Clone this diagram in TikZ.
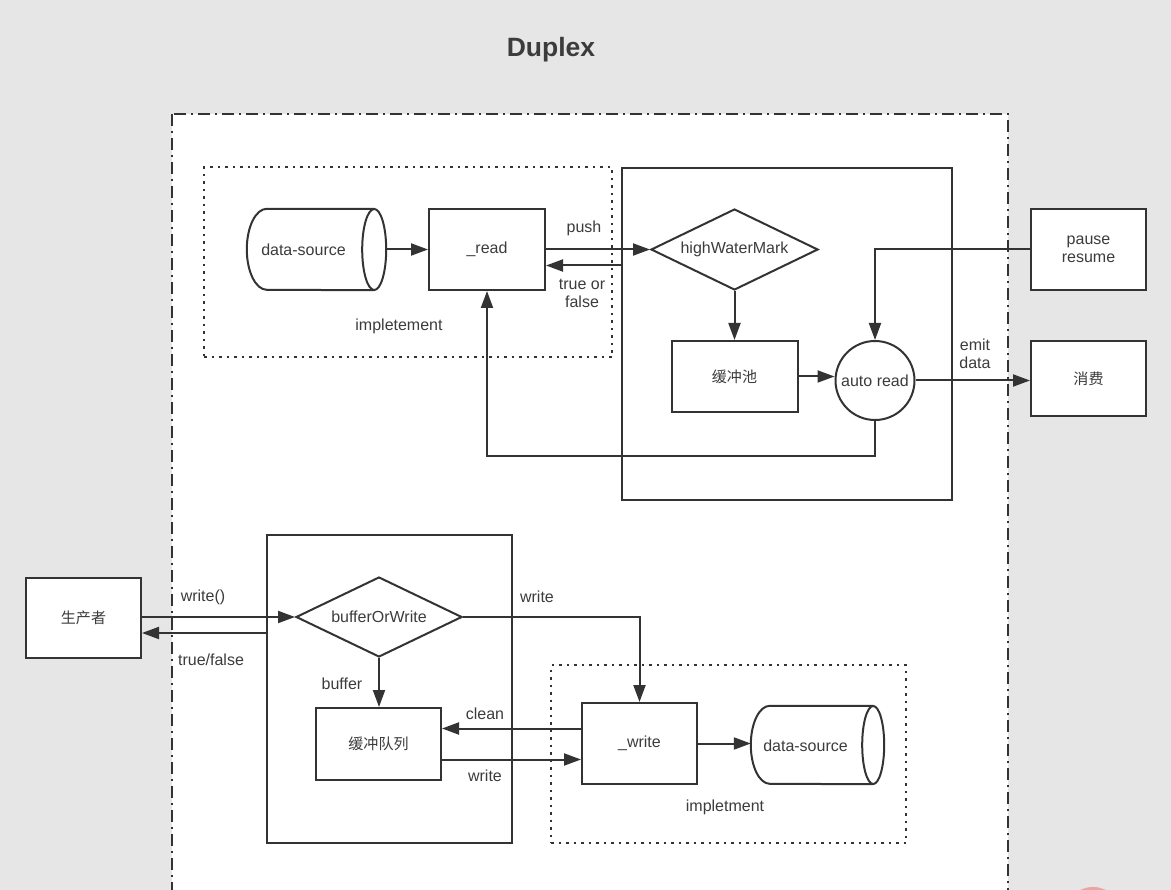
\documentclass[tikz,border=0pt]{standalone}
\usepackage{fontspec}
\setmainfont{Liberation Sans}
\newfontfamily\cjk[Scale=0.94]{Noto Sans CJK SC}
\usetikzlibrary{arrows.meta,shapes.geometric}
\definecolor{bg}{HTML}{E6E6E6}
\definecolor{ink}{HTML}{333333}
\definecolor{txt}{HTML}{3C3C3C}
\definecolor{pinkdot}{HTML}{EBA3A3}
\begin{document}
\begin{tikzpicture}[x=1pt,y=-1pt,
  every node/.style={font=\fontsize{16}{19}\selectfont, text=txt},
  box/.style={draw=ink, line width=2pt, fill=white, inner sep=0pt, align=center},
  dia/.style={diamond, aspect=2, draw=ink, line width=2pt, fill=white, inner sep=0pt},
  circ/.style={circle, draw=ink, line width=2pt, fill=white, inner sep=0pt},
  dsn/.style={draw=none, inner sep=0pt},
  cylline/.style={draw=ink, line width=2pt, fill=white},
  container/.style={draw=ink, line width=2pt, inner sep=0pt},
  dotbox/.style={draw=ink, line width=2pt, dash pattern=on 2.5pt off 5pt, inner sep=0pt},
  outerbox/.style={draw=ink, line width=1.8pt, fill=white, dash pattern=on 12pt off 5pt on 2pt off 5pt},
  conn/.style={draw=ink, line width=2pt},
  arr/.style={conn, -{Triangle[length=17pt,width=12pt]}},
  lbl/.style={inner sep=0pt, align=center}
]
\useasboundingbox (0,0) rectangle (1171,890);
\fill[bg] (0,0) rectangle (1171,890);
\clip (0,0) rectangle (1171,890);

% title
\node[font=\fontsize{26.5}{30}\selectfont\bfseries] (title) at (551,50) {Duplex};

% outer duplex box
\draw[outerbox] (172,114) rectangle (1008,905);

% containers
\node[dotbox, minimum width=408pt, minimum height=190pt] (rimpl) at (408,262.5) {};
\node[container, minimum width=330pt, minimum height=332pt] (rbox) at (787,334) {};
\node[container, minimum width=245pt, minimum height=308pt] (lbox) at (389.5,689) {};
\node[dotbox, minimum width=355pt, minimum height=178pt] (wimpl) at (728.5,754) {};

% ---- readable side ----
\node[dsn, minimum width=139pt, minimum height=81pt] (ds1) at (316.5,249.5) {};
\draw[cylline] ([xshift=-12pt]ds1.north east) -- ([xshift=20pt]ds1.north west)
  arc[start angle=270, end angle=90, x radius=20, y radius=40.5]
  -- ([xshift=-12pt]ds1.south east);
\draw[cylline] ([xshift=-12pt]ds1.east) ellipse [x radius=12, y radius=40.5];
\node[dsn] (ds1t) at (303.5,250) {data-source};

\node[box, minimum width=116pt, minimum height=81pt] (read) at (487,249.5) {\_read};
\node[dia, minimum width=167pt, minimum height=81pt] (hwm) at (734.5,249.5) {highWaterMark};
\node[box, minimum width=126pt, minimum height=71pt] (pool) at (734.5,376.5) {\cjk 缓冲池};
\node[circ, minimum size=79pt] (ar) at (875,380.5) {auto read};
\node[box, minimum width=115pt, minimum height=81pt] (pause) at (1088.5,249.5) {pause\\[-1pt]resume};
\node[box, minimum width=115pt, minimum height=75pt] (cons) at (1088.5,378.5) {\cjk 消费};

\draw[arr] (ds1.east) -- (read.west);
\draw[arr] (read.east) -- (hwm.west);
\draw[arr] ([yshift=-16pt]read.east -| rbox.west) -- ([yshift=-16pt]read.east);
\draw[arr] (hwm.south) -- (pool.north);
\draw[arr] (pool.east) -- (pool.east -| ar.west);
\draw[arr] (pause.west) -| (ar.north);
\draw[arr] (ar.east) -- (ar.east -| cons.west);
\coordinate (loop) at (487,456);
\draw[arr] (ar.south) |- (loop) -- (read.south);

\node[lbl] (lpush) at (584,228) {push};
\node[lbl, align=center] (ltf) at (582,293) {true or\\[-1pt]false};
\node[lbl] (limpl1) at (399,326) {impletement};
\node[lbl, align=center] (lemit) at (975,354) {emit\\[-1pt]data};

% ---- writable side ----
\node[box, minimum width=115pt, minimum height=80pt] (prod) at (83.5,618) {\cjk 生产者};
\node[dia, minimum width=166pt, minimum height=80pt] (bow) at (379,617) {bufferOrWrite};
\node[box, minimum width=125pt, minimum height=72pt] (queue) at (378.5,744) {\cjk 缓冲队列};
\node[box, minimum width=115pt, minimum height=81pt] (wr) at (639.5,743.5) {\_write};

\node[dsn, minimum width=133pt, minimum height=78pt] (ds2) at (817.5,745) {};
\draw[cylline] ([xshift=-11pt]ds2.north east) -- ([xshift=19pt]ds2.north west)
  arc[start angle=270, end angle=90, x radius=19, y radius=39]
  -- ([xshift=-11pt]ds2.south east);
\draw[cylline] ([xshift=-11pt]ds2.east) ellipse [x radius=11, y radius=39];
\node[dsn] (ds2t) at (805.5,746) {data-source};

\draw[arr] (prod.east |- bow.west) -- (bow.west);
\draw[arr] ([yshift=-15pt]prod.east -| lbox.west) -- ([yshift=-15pt]prod.east);
\draw[arr] (bow.east) -| (wr.north);
\draw[arr] (bow.south) -- (bow.south |- queue.north);
\draw[arr] ([yshift=15pt]wr.west) -- ([yshift=15pt]wr.west -| queue.east);
\draw[arr] ([yshift=-16pt]wr.west -| queue.east) -- ([yshift=-16pt]wr.west);
\draw[arr] (wr.east) -- (wr.east -| ds2.west);

\node[lbl] (lwrite0) at (203,597) {write()};
\node[lbl] (ltf2) at (211,660) {true/false};
\node[lbl] (lwrite1) at (537,597) {write};
\node[lbl] (lbuf) at (342,684) {buffer};
\node[lbl] (lclean) at (485,714) {clean};
\node[lbl] (lwrite2) at (485,776) {write};
\node[lbl] (limpl2) at (725,807) {impletment};

% stray badge at the bottom edge
\fill[pinkdot] (1093,916) circle [radius=29];
\end{tikzpicture}
\end{document}
